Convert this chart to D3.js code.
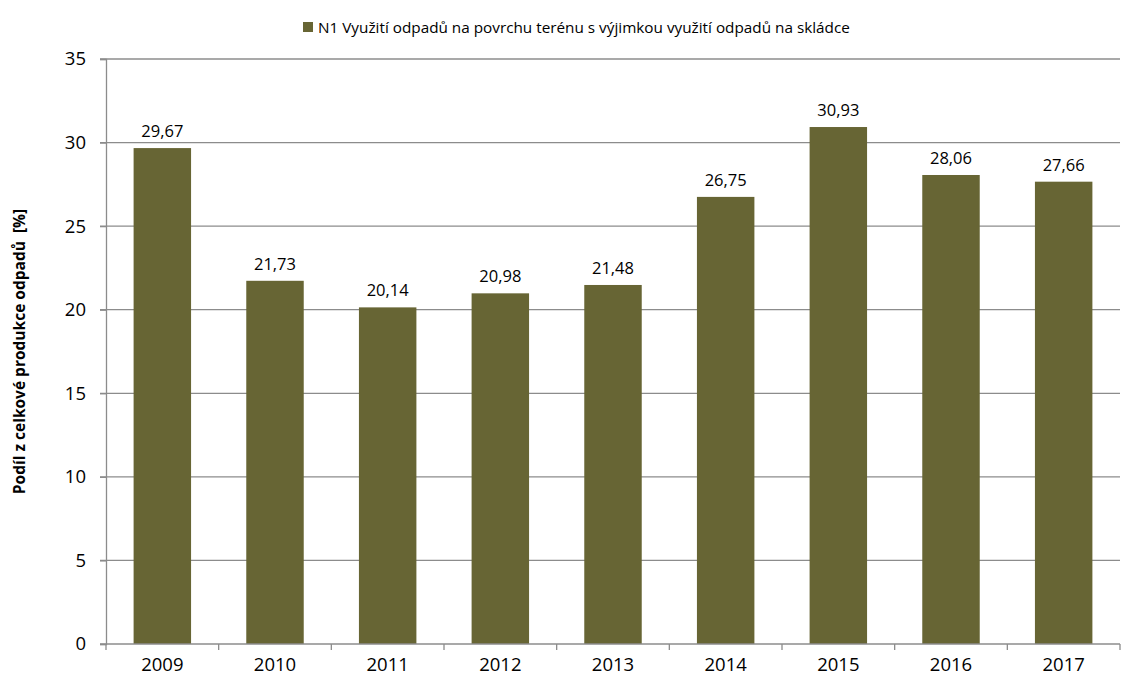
<!DOCTYPE html>
<html>
<head>
<meta charset="utf-8">
<script src="https://d3js.org/d3.v7.min.js"></script>
<style>
  body { margin: 0; background: #fff; }
  text { font-family: "Open Sans", "Noto Sans", sans-serif; }
</style>
</head>
<body>
<div id="chart"></div>
<script>
const years = ['2009', '2010', '2011', '2012', '2013', '2014', '2015', '2016', '2017'];
const values = [29.67, 21.73, 20.14, 20.98, 21.48, 26.75, 30.93, 28.06, 27.66];
const yTicks = [0, 5, 10, 15, 20, 25, 30, 35];
const seriesName = 'N1 Využití odpadů na povrchu terénu s výjimkou využití odpadů na skládce';
const yTitle = 'Podíl z celkové produkce odpadů  [%]';

const width = 1123, height = 680;
const padding = {top: 59, right: 3, bottom: 36, left: 106};
const barColor = '#676534';

const svg = d3.select('#chart').append('svg')
    .attr('width', width)
    .attr('height', height);

const x = d3.scaleBand()
    .domain(years)
    .range([padding.left, width - padding.right])
    .paddingInner(0.49)
    .paddingOuter(0.245);

const y = d3.scaleLinear()
    .domain([0, 35])
    .range([height - padding.bottom, padding.top]);

// gridlines
svg.append('g')
    .selectAll('line')
    .data(yTicks.slice(1))
    .enter()
    .append('line')
    .attr('x1', padding.left - 6)
    .attr('x2', width - padding.right)
    .attr('y1', d => y(d))
    .attr('y2', d => y(d))
    .attr('stroke', '#8c8c8c')
    .attr('stroke-width', 1.3);

// y axis
const yAxis = svg.append('g')
    .attr('transform', `translate(${padding.left},0)`)
    .call(d3.axisLeft(y).tickValues(yTicks).tickSize(6).tickPadding(14));
yAxis.select('.domain').attr('stroke', '#8c8c8c').attr('stroke-width', 1.3);
yAxis.selectAll('.tick line').attr('stroke', '#8c8c8c').attr('stroke-width', 1.3);
yAxis.selectAll('.tick text')
    .attr('font-size', 18.5)
    .attr('fill', '#000')
    .style('font-family', '"Open Sans", sans-serif');

// bars
svg.append('g')
    .selectAll('rect')
    .data(values)
    .enter()
    .append('rect')
    .attr('x', (d, i) => x(years[i]))
    .attr('y', d => y(d))
    .attr('width', x.bandwidth())
    .attr('height', d => y(0) - y(d))
    .attr('fill', barColor);

// value labels
svg.append('g')
    .selectAll('text')
    .data(values)
    .enter()
    .append('text')
    .attr('x', (d, i) => x(years[i]) + x.bandwidth() / 2)
    .attr('y', d => y(d) - 11)
    .attr('text-anchor', 'middle')
    .attr('font-size', 16.5)
    .attr('fill', '#000')
    .text(d => d.toFixed(2).replace('.', ','));

// x axis
const step = x.step();
const xAxisG = svg.append('g')
    .attr('transform', `translate(0,${y(0)})`);
xAxisG.append('line')
    .attr('x1', padding.left - 6)
    .attr('x2', width - padding.right)
    .attr('stroke', '#8c8c8c')
    .attr('stroke-width', 1.3);
xAxisG.selectAll('line.tk')
    .data(d3.range(years.length + 1))
    .enter()
    .append('line')
    .attr('class', 'tk')
    .attr('x1', i => padding.left + i * step)
    .attr('x2', i => padding.left + i * step)
    .attr('y1', 0)
    .attr('y2', 6)
    .attr('stroke', '#8c8c8c')
    .attr('stroke-width', 1.3);
xAxisG.selectAll('text')
    .data(years)
    .enter()
    .append('text')
    .attr('x', d => x(d) + x.bandwidth() / 2)
    .attr('y', 27)
    .attr('text-anchor', 'middle')
    .attr('font-size', 18.5)
    .attr('fill', '#000')
    .text(d => d);

// y title
svg.append('text')
    .attr('transform', `translate(25,${(y(0) + y(35)) / 2}) rotate(-90)`)
    .attr('text-anchor', 'middle')
    .attr('font-size', 15.5)
    .attr('font-weight', 'bold')
    .attr('fill', '#000')
    .style('white-space', 'pre')
    .text(yTitle);

// legend
const legend = svg.append('g').attr('transform', 'translate(303,22)');
legend.append('rect')
    .attr('width', 10)
    .attr('height', 10)
    .attr('fill', barColor);
legend.append('text')
    .attr('x', 15)
    .attr('y', 10.5)
    .attr('font-size', 15.3)
    .attr('fill', '#000')
    .text(seriesName);
</script>
</body>
</html>
